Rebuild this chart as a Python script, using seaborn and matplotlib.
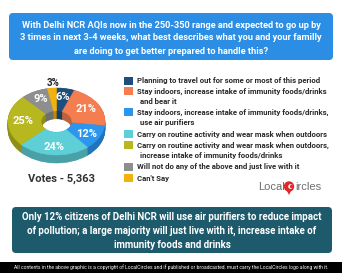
import numpy as np
import matplotlib
matplotlib.use("Agg")
import matplotlib.pyplot as plt
import seaborn as sns
from matplotlib.patches import FancyBboxPatch, Rectangle, Circle, Polygon

sns.set_theme(style="white")
plt.rcParams['font.family'] = ['Liberation Sans Narrow', 'Roboto', 'DejaVu Sans']

# ---------------- data ----------------
categories = [
    "Planning to travel out for some or most of this period",
    "Stay indoors, increase intake of immunity foods/drinks\nand bear it",
    "Stay indoors, increase intake of immunity foods/drinks,\nuse air purifiers",
    "Carry on routine activity and wear mask when outdoors",
    "Carry on routine activity and wear mask when outdoors,\nincrease intake of immunity foods/drinks",
    "Will not do any of the above and just live with it",
    "Can't Say",
]
values = [6, 21, 12, 24, 25, 9, 3]
colors = ["#1D4F7C", "#F47E50", "#2C95EE", "#5ECFD6", "#B7B71F", "#8E8E8E", "#F2B10F"]
title_lines = [
    "With Delhi NCR AQIs now in the 250-350 range and expected to go up by",
    "3 times in next 3-4 weeks, what best describes what you and your familly",
    "are doing to get better prepared to handle this?",
]
votes_text = "Votes - 5,363"
bottom_lines = [
    "Only 12% citizens of Delhi NCR will use air purifiers to reduce impact",
    "of pollution; a large majority will just live with it, increase intake of",
    "immunity foods and drinks",
]
footer_text = ("All contents in the above graphic is a copyright of LocalCircles and if published "
               "or broadcasted, must carry the LocalCircles logo along with it.")

W, H = 342, 273
fig = plt.figure(figsize=(W / 100, H / 100), dpi=100)
fig.patch.set_facecolor("white")

# background axes in pixel coordinates
bg = fig.add_axes([0, 0, 1, 1])
bg.set_xlim(0, W)
bg.set_ylim(H, 0)
bg.axis("off")

# title box
bg.add_patch(FancyBboxPatch((9, 13), 324, 47, boxstyle="round,pad=0,rounding_size=4",
                            facecolor="#2B8DE3", edgecolor="none"))
for i, line in enumerate(title_lines):
    bg.text(171, 25 + i * 13, line, color="white", fontsize=6.7, fontweight="bold",
            ha="center", va="center")

# bottom box
bg.add_patch(FancyBboxPatch((12, 207), 320, 46, boxstyle="round,pad=0,rounding_size=4",
                            facecolor="#1C5A6C", edgecolor="none"))
for i, line in enumerate(bottom_lines):
    bg.text(172, 217 + i * 14, line, color="white", fontsize=7.0, fontweight="bold",
            ha="center", va="center")

# footer
bg.add_patch(Rectangle((0, 262), W, 11, facecolor="black", edgecolor="none"))
bg.text(171, 267.5, footer_text, color="white", fontsize=3.65, ha="center", va="center")

# legend
row_y = [81, 91, 112, 134, 145, 167, 178]
for c, lab, y in zip(colors, categories, row_y):
    bg.add_patch(Rectangle((124, y - 4), 9, 8, facecolor=c, edgecolor="none"))
    parts = lab.split("\n")
    bg.text(137, y, parts[0], color="#2A2A2A", fontsize=5.6, fontweight="bold",
            ha="left", va="center")
    if len(parts) > 1:
        bg.text(139.5, y + 10.5, parts[1], color="#2A2A2A", fontsize=5.6, fontweight="bold",
                ha="left", va="center")

# votes
bg.text(61, 179, votes_text, color="#333333", fontsize=8, fontweight="bold",
        ha="center", va="center")

# LocalCircles logo
bg.text(285, 187, "Local", color="#6E6E6E", fontsize=8, ha="right", va="center",
        family=["Liberation Sans", "DejaVu Sans"])
bg.add_patch(Polygon([[286.5, 190], [291.5, 190], [289, 195]], closed=True,
                     facecolor="#E0282A", edgecolor="none"))
bg.add_patch(Circle((289, 186.5), 5.2, facecolor="#E0282A", edgecolor="none"))
bg.add_patch(Circle((290.5, 186.5), 2.3, facecolor="white", edgecolor="none"))
bg.add_patch(Circle((291.6, 186.5), 1.7, facecolor="#E0282A", edgecolor="none"))
bg.text(295, 187, "ircles", color="#6E6E6E", fontsize=8, ha="left", va="center",
        family=["Liberation Sans", "DejaVu Sans"])

# ---------------- donut ----------------
cx, cy, rx, ry = 56.5, 121.5, 48.5, 33.5
x0, x1, ytop, ybot = 0, 113, 68, 176
ax = fig.add_axes([x0 / W, (H - ybot) / H, (x1 - x0) / W, (ybot - ytop) / H])
ax.axis("off")


def darker(c, f=0.78):
    r, g, b = matplotlib.colors.to_rgb(c)
    return (r * f, g * f, b * f)


def draw_ring(cols, dy):
    wedges, _ = ax.pie(values, colors=cols, startangle=90, counterclock=False,
                       center=(0, dy), wedgeprops=dict(width=hole_w))
    for w in wedges:
        w.set_edgecolor(w.get_facecolor())
        w.set_linewidth(0.4)


dark = [darker(c) for c in colors]
depth = 8 / ry
hole_w = 0.68
for k in np.linspace(depth, 0.01, 14):
    draw_ring(dark, -k)
draw_ring(colors, 0)
ax.set_aspect("auto")
ax.set_xlim(-(cx - x0) / rx, (x1 - cx) / rx)
ax.set_ylim(-(ybot - cy) / ry, (cy - ytop) / ry)

# percentage labels
start = 90.0
total = float(sum(values))
for v, c in zip(values, colors):
    ang = start - v / total * 360 / 2
    start -= v / total * 360
    a = np.deg2rad(ang)
    if v < 5:
        ax.text(np.cos(a) * 1.05 + 0.02, np.sin(a) * 1.05 + 0.11, f"{v}%", color="#222222",
                fontsize=7, fontweight="bold", ha="center", va="center")
    else:
        r = 0.7
        ax.text(np.cos(a) * r, np.sin(a) * r * 1.08, f"{v}%", color="white",
                fontsize=8, fontweight="bold", ha="center", va="center")

fig.savefig("out.png", dpi=100, facecolor="white")
